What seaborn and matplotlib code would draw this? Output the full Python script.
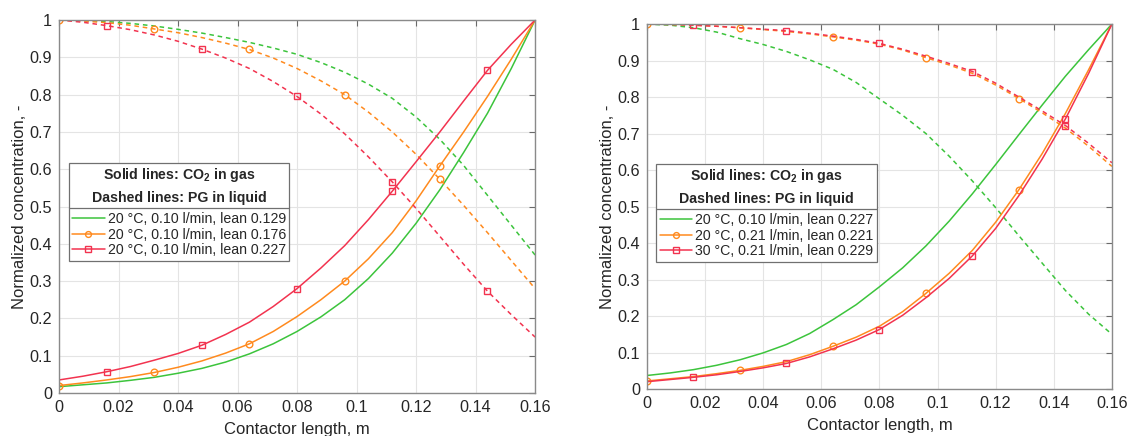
import matplotlib
matplotlib.use('Agg')
import matplotlib.pyplot as plt
import seaborn as sns
from matplotlib.lines import Line2D
from matplotlib.ticker import FuncFormatter, MultipleLocator

# ---- data (x in m, normalized concentration) ----
length = [0.0, 0.008, 0.016, 0.024, 0.032, 0.04, 0.048, 0.056, 0.064, 0.072, 0.08,
          0.088, 0.096, 0.104, 0.112, 0.12, 0.128, 0.136, 0.144, 0.152, 0.16]

# left panel
left_gas_green = [0.017, 0.022, 0.027, 0.034, 0.042, 0.053, 0.066, 0.083, 0.105, 0.132, 0.165,
                  0.204, 0.25, 0.307, 0.375, 0.455, 0.545, 0.645, 0.75, 0.87, 1.0]
left_gas_orange = [0.02, 0.027, 0.035, 0.044, 0.055, 0.069, 0.086, 0.107, 0.132, 0.165, 0.205,
                   0.25, 0.30, 0.36, 0.43, 0.515, 0.609, 0.70, 0.795, 0.895, 1.0]
left_gas_red = [0.035, 0.045, 0.057, 0.071, 0.088, 0.106, 0.128, 0.157, 0.19, 0.232, 0.28,
                0.335, 0.395, 0.465, 0.541, 0.62, 0.70, 0.783, 0.865, 0.935, 1.0]
left_liq_green = [1.0, 0.999, 0.996, 0.991, 0.984, 0.975, 0.965, 0.953, 0.94, 0.925, 0.908,
                  0.886, 0.86, 0.828, 0.79, 0.74, 0.68, 0.61, 0.53, 0.45, 0.37]
left_liq_orange = [1.0, 0.997, 0.993, 0.986, 0.976, 0.966, 0.953, 0.938, 0.921, 0.898, 0.87,
                   0.837, 0.80, 0.753, 0.70, 0.64, 0.573, 0.503, 0.43, 0.355, 0.28]
left_liq_red = [1.0, 0.994, 0.985, 0.974, 0.96, 0.943, 0.922, 0.898, 0.87, 0.835, 0.795,
                0.748, 0.695, 0.633, 0.566, 0.495, 0.42, 0.345, 0.273, 0.21, 0.15]
left_labels = ['20 °C, 0.10 l/min, lean 0.129',
               '20 °C, 0.10 l/min, lean 0.176',
               '20 °C, 0.10 l/min, lean 0.227']

# right panel
right_gas_green = [0.037, 0.044, 0.053, 0.065, 0.08, 0.099, 0.122, 0.152, 0.19, 0.231, 0.28,
                   0.332, 0.392, 0.46, 0.535, 0.615, 0.697, 0.778, 0.857, 0.93, 1.0]
right_gas_orange = [0.022, 0.028, 0.034, 0.042, 0.051, 0.062, 0.075, 0.094, 0.117, 0.142, 0.172,
                    0.212, 0.262, 0.317, 0.38, 0.457, 0.546, 0.645, 0.755, 0.875, 1.0]
right_gas_red = [0.02, 0.026, 0.032, 0.039, 0.048, 0.058, 0.07, 0.088, 0.11, 0.134, 0.163,
                 0.202, 0.25, 0.303, 0.365, 0.44, 0.53, 0.63, 0.74, 0.865, 1.0]
right_liq_green = [1.0, 0.997, 0.99, 0.978, 0.96, 0.944, 0.925, 0.902, 0.876, 0.84, 0.795,
                   0.75, 0.70, 0.638, 0.57, 0.497, 0.42, 0.345, 0.27, 0.205, 0.15]
right_liq_orange = [1.0, 0.999, 0.997, 0.994, 0.99, 0.985, 0.98, 0.973, 0.965, 0.956, 0.945,
                    0.929, 0.908, 0.888, 0.865, 0.833, 0.796, 0.757, 0.715, 0.665, 0.61]
right_liq_red = [1.0, 0.999, 0.997, 0.994, 0.99, 0.986, 0.982, 0.975, 0.967, 0.958, 0.947,
                 0.931, 0.912, 0.892, 0.870, 0.838, 0.80, 0.762, 0.722, 0.673, 0.62]
right_labels = ['20 °C, 0.10 l/min, lean 0.227',
                '20 °C, 0.21 l/min, lean 0.221',
                '30 °C, 0.21 l/min, lean 0.229']

colors = ['#3cc43c', '#ff8a1e', '#f2334f']
markers = [None, 'o', 's']
mark_at = [None, slice(0, 20, 4), slice(2, 20, 4)]

sns.set_style('white')
plt.rcParams['font.family'] = ['Liberation Sans', 'DejaVu Sans']
plt.rcParams['mathtext.fontset'] = 'custom'
plt.rcParams['mathtext.rm'] = 'Liberation Sans'
plt.rcParams['mathtext.bf'] = 'Liberation Sans:bold'

fig = plt.figure(figsize=(11.31, 4.36), dpi=100)
ax1 = fig.add_axes([0.0522, 0.0986, 0.4209, 0.8555])
ax2 = fig.add_axes([0.572, 0.1078, 0.4111, 0.837])


def add_markers(ax, i):
    line = ax.lines[-1]
    line.set_marker(markers[i])
    line.set_markevery(mark_at[i])
    line.set_markersize(4.8)
    line.set_markerfacecolor('none')
    line.set_markeredgecolor(colors[i])
    line.set_markeredgewidth(1.0)


def draw_panel(ax, gas, liq, labels):
    handles = []
    for i in range(3):
        sns.lineplot(x=length, y=liq[i], color=colors[i], linewidth=1.1, ax=ax,
                     legend=False, linestyle=(0, (3, 2.5)))
        if markers[i]:
            add_markers(ax, i)
        sns.lineplot(x=length, y=gas[i], color=colors[i], linewidth=1.1, ax=ax, legend=False)
        if markers[i]:
            add_markers(ax, i)
        handles.append(Line2D([], [], color=colors[i], linewidth=1.1,
                              marker=markers[i], markersize=4.2,
                              markerfacecolor='none', label=labels[i]))

    ax.set_xlim(0, 0.16)
    ax.set_ylim(0, 1)
    ax.xaxis.set_major_locator(MultipleLocator(0.02))
    ax.yaxis.set_major_locator(MultipleLocator(0.1))
    fmt = FuncFormatter(lambda v, p: '%g' % round(v, 3))
    ax.xaxis.set_major_formatter(fmt)
    ax.yaxis.set_major_formatter(fmt)
    ax.grid(True, color='#e4e4e4', linewidth=0.8)
    ax.set_axisbelow(True)
    for s in ax.spines.values():
        s.set_color('#8a8a8a')
        s.set_linewidth(1.0)
        s.set_visible(True)
    ax.tick_params(direction='in', top=True, right=True, length=4, width=0.8,
                   color='#6a6a6a', labelsize=11.7, labelcolor='#262626', pad=5)
    ax.set_xlabel('Contactor length, m', fontsize=12, color='#262626', labelpad=5)
    ax.set_ylabel('Normalized concentration, -', fontsize=12, color='#262626', labelpad=2)

    leg = ax.legend(handles=handles, loc='upper left', bbox_to_anchor=(0.02, 0.617),
                    borderaxespad=0, fontsize=10.2, frameon=True, fancybox=False,
                    framealpha=1, edgecolor='#707070', handlelength=2.3,
                    handletextpad=0.2, borderpad=0.25, labelspacing=0.12,
                    title='Solid lines: CO$_{\\mathbf{2}}$ in gas\nDashed lines: PG in liquid',
                    title_fontproperties={'weight': 'bold', 'size': 10.2})
    leg.get_title().set_multialignment('center')
    leg.get_title().set_linespacing(1.6)
    leg.get_frame().set_linewidth(0.9)
    # a little room between the title block and the entries
    leg._legend_box.sep = 5
    return leg


leg1 = draw_panel(ax1, [left_gas_green, left_gas_orange, left_gas_red],
                  [left_liq_green, left_liq_orange, left_liq_red], left_labels)
leg2 = draw_panel(ax2, [right_gas_green, right_gas_orange, right_gas_red],
                  [right_liq_green, right_liq_orange, right_liq_red], right_labels)

# separator line between legend title and entries
fig.canvas.draw()
inv = fig.transFigure.inverted()
for leg in (leg1, leg2):
    fb = leg.get_frame().get_window_extent()
    tb = leg.get_title().get_window_extent()
    y = tb.y0 - 3
    (x0, yy), (x1, _) = inv.transform([(fb.x0, y), (fb.x1, y)])
    fig.add_artist(Line2D([x0, x1], [yy, yy], color='#707070', linewidth=0.9))

fig.savefig('out.png', dpi=100)
